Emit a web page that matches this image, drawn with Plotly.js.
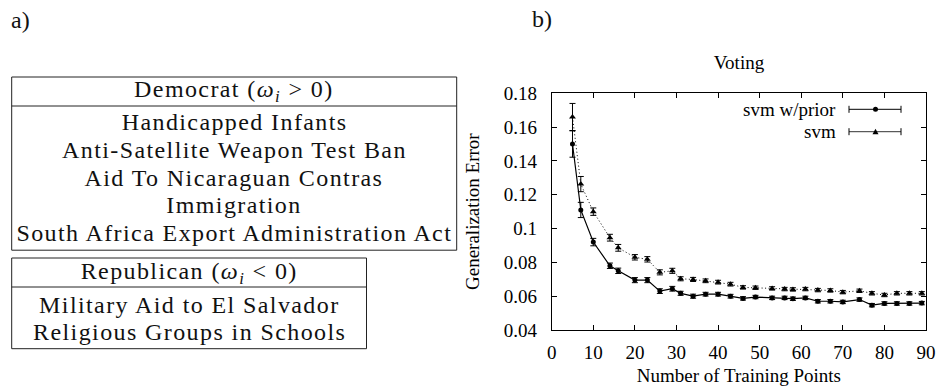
<!DOCTYPE html>
<html>
<head>
<meta charset="utf-8">
<script src="https://cdn.plot.ly/plotly-3.0.1.min.js"></script>
<style>html,body{margin:0;padding:0;background:#fff;}#chart{width:936px;height:389px;}</style>
</head>
<body>
<div id="chart"></div>
<script>
// ---------------- data ----------------
const trainingPoints = [5, 7, 10, 14, 16, 20, 23, 26, 29, 31, 34, 37, 40, 43, 46, 49, 53, 56, 58, 61, 64, 67, 70, 74, 77, 80, 83, 86, 89];
const errPriorMean = [0.150, 0.111, 0.092, 0.078, 0.075, 0.0695, 0.0695, 0.063, 0.0644, 0.0617, 0.0600, 0.0612, 0.0612, 0.0600, 0.0587, 0.0595, 0.0590, 0.0590, 0.0585, 0.0590, 0.0570, 0.0570, 0.0566, 0.0580, 0.0547, 0.0557, 0.0557, 0.0557, 0.0559];
const errPriorStd  = [0.0078, 0.0045, 0.0022, 0.0016, 0.0016, 0.0015, 0.0015, 0.0014, 0.0014, 0.0012, 0.0012, 0.0011, 0.0011, 0.0011, 0.0010, 0.0010, 0.0010, 0.0010, 0.0010, 0.0010, 0.0010, 0.0010, 0.0010, 0.0010, 0.0010, 0.0010, 0.0010, 0.0010, 0.0010];
const errSvmMean   = [0.166, 0.1263, 0.110, 0.0946, 0.0886, 0.0830, 0.0818, 0.0741, 0.0750, 0.0703, 0.0699, 0.0691, 0.0683, 0.0671, 0.0652, 0.0650, 0.0646, 0.0642, 0.0640, 0.0642, 0.0636, 0.0634, 0.0624, 0.0632, 0.0617, 0.0607, 0.0617, 0.0617, 0.0617];
const errSvmStd    = [0.0080, 0.0045, 0.0022, 0.0020, 0.0020, 0.0016, 0.0016, 0.0015, 0.0015, 0.0012, 0.0012, 0.0011, 0.0011, 0.0011, 0.0010, 0.0010, 0.0010, 0.0010, 0.0010, 0.0010, 0.0010, 0.0010, 0.0010, 0.0010, 0.0010, 0.0010, 0.0010, 0.0010, 0.0010];
const seriesNames = ["svm w/prior", "svm"];
const xTickVals = [0, 10, 20, 30, 40, 50, 60, 70, 80, 90];
const yTickVals = [0.04, 0.06, 0.08, 0.1, 0.12, 0.14, 0.16, 0.18];

const demHeader = "Democrat (<i>ω</i><sub><i>i</i></sub> &gt; 0)";
const demItems = ["Handicapped Infants", "Anti-Satellite Weapon Test Ban", "Aid To Nicaraguan Contras", "Immigration", "South Africa Export Administration Act"];
const repHeader = "Republican (<i>ω</i><sub><i>i</i></sub> &lt; 0)";
const repItems = ["Military Aid to El Salvador", "Religious Groups in Schools"];

// ---------------- layout helpers ----------------
const W = 936, H = 389;
const px = x => x / W;
const py = y => 1 - y / H;
const serif = "Liberation Serif, Times New Roman, serif";
const tableFont = "Liberation Serif, Times New Roman, serif";
const tableSize = 24;

const shapes = [];
const annotations = [];
const spacedIdx = [];

function addTableText(x, y, text) {
  spacedIdx.push(annotations.length);
  annotations.push({xref: "paper", yref: "paper", x: x, y: y, text: text, showarrow: false, xanchor: "center", yanchor: "middle", font: {family: tableFont, size: tableSize, color: "#111"}});
}

function table(x0, x1, top, headerBottom, rowStep, firstRowOffset, bottomPad, header, items) {
  const bottom = headerBottom + firstRowOffset + rowStep * (items.length - 1) + bottomPad;
  shapes.push({type: "rect", xref: "paper", yref: "paper", x0: px(x0), x1: px(x1), y0: py(bottom), y1: py(top), line: {color: "#222", width: 1}});
  shapes.push({type: "line", xref: "paper", yref: "paper", x0: px(x0), x1: px(x1), y0: py(headerBottom), y1: py(headerBottom), line: {color: "#222", width: 1}});
  const cx = (x0 + x1) / 2;
  addTableText(px(cx), py((top + headerBottom) / 2), header);
  items.forEach((t, i) => addTableText(px(cx), py(headerBottom + firstRowOffset + i * rowStep), t));
}
table(11.7, 456.7, 77, 106, 27.8, 16, 17, demHeader, demItems);
table(11.7, 366.5, 258, 287, 26.7, 18, 17, repHeader, repItems);

annotations.push({xref: "paper", yref: "paper", x: px(9), y: py(20), text: "a)", showarrow: false, xanchor: "left", yanchor: "middle", font: {family: tableFont, size: tableSize, color: "#111"}});
annotations.push({xref: "paper", yref: "paper", x: px(530), y: py(19), text: "b)", showarrow: false, xanchor: "left", yanchor: "middle", font: {family: tableFont, size: tableSize, color: "#111"}});

// letter spacing to emulate the wider Computer Modern face in the tables
const css = document.createElement("style");
css.textContent = spacedIdx.map(i => `#chart g.annotation[data-index="${i}"] text`).join(",") + "{letter-spacing:1.4px;}";
document.head.appendChild(css);

// custom gnuplot-like legend
const legY = [109.3, 131.7];
const legX0 = 849, legX1 = 901, legXm = 875.5;
seriesNames.forEach((name, i) => {
  const y = legY[i];
  annotations.push({xref: "paper", yref: "paper", x: px(838), y: py(y), text: name, showarrow: false, xanchor: "right", yanchor: "middle", font: {family: serif, size: 19, color: "#000"}});
  shapes.push({type: "line", xref: "paper", yref: "paper", x0: px(legX0), x1: px(legX1), y0: py(y), y1: py(y), line: {color: i === 0 ? "#000" : "#333", width: 1}});
  shapes.push({type: "line", xref: "paper", yref: "paper", x0: px(legX0), x1: px(legX0), y0: py(y - 3.5), y1: py(y + 3.5), line: {color: "#000", width: 1}});
  shapes.push({type: "line", xref: "paper", yref: "paper", x0: px(legX1), x1: px(legX1), y0: py(y - 3.5), y1: py(y + 3.5), line: {color: "#000", width: 1}});
  if (i === 0) {
    shapes.push({type: "circle", xref: "paper", yref: "paper", x0: px(legXm - 2.5), x1: px(legXm + 2.5), y0: py(y + 2.5), y1: py(y - 2.5), fillcolor: "#000", line: {color: "#000", width: 0}});
  } else {
    const p = `M ${px(legXm - 3)} ${py(y + 2.5)} L ${px(legXm + 3)} ${py(y + 2.5)} L ${px(legXm)} ${py(y - 3)} Z`;
    shapes.push({type: "path", xref: "paper", yref: "paper", path: p, fillcolor: "#000", line: {color: "#000", width: 0}});
  }
});

const traces = [
  {x: trainingPoints, y: errPriorMean, name: seriesNames[0], type: "scatter", mode: "lines+markers",
   line: {color: "#000", width: 1.2}, marker: {symbol: "circle", size: 5, color: "#000"},
   error_y: {type: "data", array: errPriorStd, visible: true, color: "#000", thickness: 1, width: 3}},
  {x: trainingPoints, y: errSvmMean, name: seriesNames[1], type: "scatter", mode: "lines+markers",
   line: {color: "#000", width: 1, dash: "1px,2.5px"}, marker: {symbol: "triangle-up", size: 6, color: "#000"},
   error_y: {type: "data", array: errSvmStd, visible: true, color: "#000", thickness: 1, width: 3}}
];

const layout = {
  width: W, height: H,
  margin: {l: 0, r: 0, t: 0, b: 0},
  paper_bgcolor: "#fff", plot_bgcolor: "#fff",
  showlegend: false,
  title: {text: "Voting", x: px(739), xanchor: "center", y: py(62), yanchor: "middle", font: {family: serif, size: 19, color: "#000"}},
  xaxis: {
    domain: [px(551.7), px(926)], range: [0, 90], tickvals: xTickVals, ticks: "inside", ticklen: 5, tickcolor: "#000",
    showline: true, linecolor: "#000", linewidth: 1, mirror: "allticks", showgrid: false, zeroline: false,
    tickfont: {family: serif, size: 19, color: "#000"}, ticklabelstandoff: 5,
    title: {text: "Number of Training Points", font: {family: serif, size: 19, color: "#000"}, standoff: 6}
  },
  yaxis: {
    domain: [py(330), py(93.3)], range: [0.04, 0.18], tickvals: yTickVals, ticks: "inside", ticklen: 5, tickcolor: "#000",
    showline: true, linecolor: "#000", linewidth: 1, mirror: "allticks", showgrid: false, zeroline: false,
    tickfont: {family: serif, size: 19, color: "#000"}, ticklabelstandoff: 10,
    title: {text: "Generalization Error", font: {family: serif, size: 19, color: "#000"}, standoff: 18}
  },
  shapes: shapes,
  annotations: annotations
};

Plotly.newPlot("chart", traces, layout, {staticPlot: true, displayModeBar: false});
</script>
</body>
</html>
